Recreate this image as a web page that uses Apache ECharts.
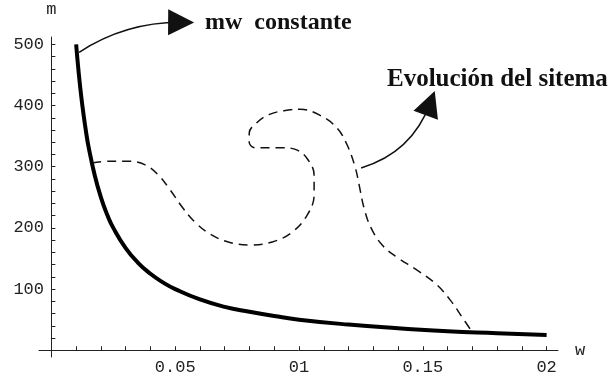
<!DOCTYPE html>
<html>
<head>
<meta charset="utf-8">
<script src="https://cdn.jsdelivr.net/npm/echarts@6/dist/echarts.min.js"></script>
<style>
html, body { margin: 0; padding: 0; background: #fff; }
#chart { width: 608px; height: 380px; }
</style>
</head>
<body>
<div id="chart"></div>
<script>
// curva mw constante
var curvaW = [0.01, 0.011, 0.012, 0.013, 0.014, 0.015, 0.0175, 0.02, 0.0225, 0.025, 0.03, 0.035, 0.04, 0.045, 0.05, 0.06, 0.07, 0.08, 0.09, 0.1, 0.12, 0.14, 0.16, 0.18, 0.2]
var curvaM = [500, 455, 417, 385, 357, 333, 286, 250, 222, 200, 167, 143, 125, 111, 100, 83, 71, 63, 56, 50, 42, 36, 31, 28, 25]

// evolucion del sistema (linea discontinua)
var evolW = [0.0165, 0.0237, 0.031, 0.0379, 0.0431, 0.048, 0.0532, 0.0581, 0.0641, 0.0714, 0.0803, 0.0892, 0.0972, 0.1033, 0.1061, 0.1061, 0.1037, 0.0993, 0.0932, 0.0864, 0.0824, 0.0799, 0.0799, 0.0827, 0.0884, 0.0965, 0.1005, 0.1085, 0.1154, 0.1195, 0.1227, 0.1243, 0.1263, 0.1291, 0.1336, 0.1396, 0.1477, 0.1554, 0.1611, 0.1659, 0.1699]
var evolM = [306, 309, 309, 303, 287, 262, 232, 209, 190, 177, 172, 177, 193, 221, 254, 286, 311, 327, 331, 331, 331, 340, 355, 371, 386, 393, 394, 384, 363, 335, 299, 270, 232, 200, 172, 152, 131, 108, 82, 54, 30]

// flechas de las anotaciones [inicio, fin]
var flechaConstante = [[0.0112, 487], [0.0524, 536]]
var flechaEvolucion = [[0.1251, 298], [0.153, 404]]

// ticks
var xTicks = [0.05, 0.1, 0.15, 0.2]
var xTickLabels = ['0.05', '01', '0.15', '02']
var xTicksAll = [0.01, 0.02, 0.03, 0.04, 0.05, 0.06, 0.07, 0.08, 0.09, 0.1, 0.11, 0.12, 0.13, 0.14, 0.15, 0.16, 0.17, 0.18, 0.19, 0.2]
var yTicks = [100, 200, 300, 400, 500]
var yTickLabels = ['100', '200', '300', '400', '500']
var yTicksAll = [20, 40, 60, 80, 100, 120, 140, 160, 180, 200, 220, 240, 260, 280, 300, 320, 340, 360, 380, 400, 420, 440, 460, 480, 500]

function zip(a, b) {
  var r = []
  for (var i = 0; i < a.length; i++) r.push([a[i], b[i]])
  return r
}
function etiqueta(vals, labels) {
  return function (v) {
    for (var i = 0; i < vals.length; i++) {
      if (Math.abs(vals[i] - v) < 1e-9) return labels[i]
    }
    return ''
  }
}

var tickFont = { fontFamily: 'Liberation Mono', fontSize: 17, color: '#222' }

var myChart = echarts.init(document.getElementById('chart'))
myChart.setOption({
  animation: false,
  backgroundColor: '#fff',
  grid: { left: 39, right: 50, top: 37, bottom: 23 },
  xAxis: {
    type: 'value',
    min: -0.005,
    max: 0.2046,
    name: 'w',
    nameLocation: 'end',
    nameGap: 17,
    nameTextStyle: { fontFamily: 'Liberation Mono', fontSize: 17, color: '#222' },
    splitLine: { show: false },
    axisLine: { onZero: true, lineStyle: { color: '#222', width: 1 } },
    axisTick: { inside: true, length: 4, customValues: xTicksAll, lineStyle: { color: '#222' } },
    axisLabel: Object.assign({ customValues: xTicks, margin: 2, formatter: etiqueta(xTicks, xTickLabels) }, tickFont)
  },
  yAxis: {
    type: 'value',
    min: -11,
    max: 512,
    name: 'm',
    nameLocation: 'end',
    nameGap: 19,
    nameTextStyle: { fontFamily: 'Liberation Mono', fontSize: 17, color: '#222' },
    splitLine: { show: false },
    axisLine: { onZero: true, lineStyle: { color: '#222', width: 1 } },
    axisTick: { inside: true, length: 4, customValues: yTicksAll, lineStyle: { color: '#222' } },
    axisLabel: Object.assign({ customValues: yTicks, margin: -5, formatter: etiqueta(yTicks, yTickLabels) }, tickFont)
  },
  graphic: [
    {
      type: 'text',
      x: 205,
      y: 23,
      style: {
        text: 'mw  constante',
        font: 'bold 24px "Liberation Serif"',
        fill: '#111',
        verticalAlign: 'middle'
      }
    },
    {
      type: 'text',
      x: 387,
      y: 80,
      style: {
        text: 'Evolución del sitema',
        font: 'bold 25px "Liberation Serif"',
        fill: '#111',
        verticalAlign: 'middle'
      }
    }
  ],
  series: [
    {
      name: 'mw constante',
      type: 'line',
      smooth: true,
      showSymbol: false,
      lineStyle: { color: '#000', width: 4 },
      data: zip(curvaW, curvaM)
    },
    {
      name: 'Evolución del sitema',
      type: 'line',
      smooth: 0.4,
      showSymbol: false,
      lineStyle: { color: '#111', width: 1.5, type: [9, 6] },
      data: zip(evolW, evolM)
    },
    {
      type: 'lines',
      coordinateSystem: 'cartesian2d',
      clip: false,
      silent: true,
      symbol: ['none', 'triangle'],
      symbolSize: 26,
      lineStyle: { color: '#111', width: 1.6, opacity: 1 },
      data: [
        { coords: flechaConstante, lineStyle: { curveness: 0.15 } },
        { coords: flechaEvolucion, lineStyle: { curveness: -0.25 } }
      ]
    }
  ]
})
</script>
</body>
</html>
